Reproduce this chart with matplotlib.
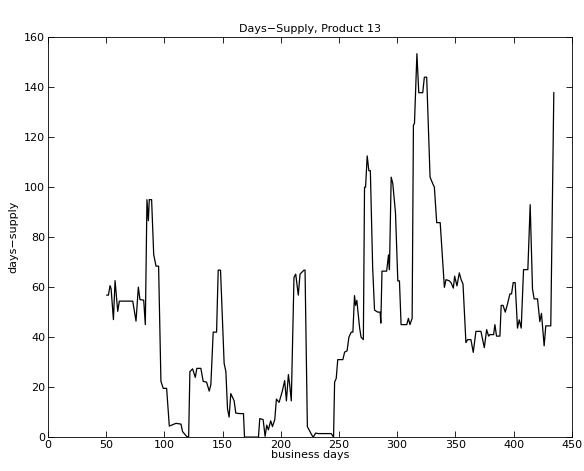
import matplotlib.pyplot as plt

# business day / days-supply breakpoints
days = [50.6, 52, 53.4, 54.3, 56.3, 57.7, 60, 61.4, 72.9, 75.7, 77.7, 79.1, 82.3, 83.7,
        85.1, 86.3, 87.1, 89.1, 90.9, 92.9, 95.1, 97.1, 99.1, 102, 104.3, 110, 114.3,
        115.7, 119.1, 120.9, 122, 124.3, 126.6, 128, 131.4, 133.4, 136.3, 138.6, 140,
        142, 144.9, 146.3, 148.3, 151.4, 152.9, 154.3, 155.7, 157.1, 160, 161.4, 164.9,
        168, 168.9, 180.9, 182, 184.9, 186.6, 188, 189.4, 191.4, 192.9, 194.9, 196.3,
        198.6, 200, 201.4, 203.4, 204.9, 206.6, 207.7, 209.1, 211.4, 212.9, 215.1,
        216.6, 220, 220.9, 222.9, 226.6, 228, 230, 232, 243.4, 245.4, 246.3, 247.7,
        249, 253.4, 254.9, 257, 258.6, 260.6, 262, 263.4, 264.3, 265.4, 267.7, 269,
        271, 272, 272.9, 274.3, 275.7, 277, 279, 280.6, 283.4, 285.4, 286, 287, 291,
        292.6, 293.4, 294.9, 296.3, 298.6, 300.6, 302, 303.4, 308.3, 309.7, 311, 312.9,
        314, 314.9, 317, 318.6, 322, 323.4, 325.4, 328.3, 330.6, 332, 334, 337, 340.6,
        342, 344.9, 346.3, 348.3, 349.4, 351.4, 353.4, 355, 356.6, 359.1, 360.6, 363.4,
        365.4, 367.7, 372, 374.9, 376.9, 378.6, 379.7, 382.9, 384, 385.4, 388.3, 389.4,
        391, 392.9, 394.9, 396.9, 398.3, 399.7, 401.4, 403.4, 404.9, 406.6, 408.6,
        412.3, 414.3, 416.3, 417.7, 420.6, 422.6, 424, 426.3, 427.7, 432, 434.6]
supply = [56.8, 56.8, 60.6, 59.4, 47, 62.6, 50.3, 54.4, 54.4, 46.4, 60, 55, 54.8, 45,
          95, 86.6, 95, 95, 73, 68.4, 68.4, 22.3, 19.5, 19.5, 4.4, 5.5, 5.2,
          2.2, 0.3, 0, 26.2, 27.3, 23.9, 27.5, 27.5, 22.3, 22, 18.4, 21,
          42, 42, 66.8, 66.8, 29.5, 26.2, 11.3, 8, 17.4, 14.5, 9.6, 9.4,
          9.4, 0, 0, 7.4, 7, 0.3, 4.8, 2.9, 6.5, 4.2, 7, 15.2,
          13.9, 16.1, 18.4, 22.6, 14.5, 25, 21, 14.5, 63.9, 65.2, 56.8,
          65.2, 66.8, 66.8, 4.2, 0.9, 0, 1.6, 1.4, 1.4, 0, 22, 23.5,
          31, 31, 34, 34.5, 40, 42, 42, 56.6, 52.7, 54.7, 44, 40,
          39, 100, 100, 112.5, 106.6, 106.6, 67.7, 50.8, 50, 50, 45.6, 66.4, 66.4,
          72.9, 67, 104, 101.4, 89.7, 62.5, 62.5, 45, 45, 47.5, 45, 47.5,
          124.8, 125.5, 153.4, 137.8, 137.8, 144, 144, 104, 101.4, 100, 85.8, 85.8, 59.9,
          63, 62.5, 61.8, 59.6, 64.4, 60.5, 65.7, 63, 61.2, 37.8, 39, 39,
          33.9, 42.3, 42.3, 35.8, 43, 40.4, 41, 41, 45, 40.4, 40.4, 52.7,
          52.7, 50, 53.4, 57.3, 57.3, 61.8, 61.8, 43.6, 46.9, 43.6, 67,
          67, 93, 59.2, 55.3, 55.3, 46.2, 49.5, 36.5, 44.5, 44.5, 137.8]

plt.rcParams['font.size'] = 8
plt.rcParams['xtick.direction'] = 'in'
plt.rcParams['ytick.direction'] = 'in'
plt.rcParams['axes.unicode_minus'] = True

fig = plt.figure(figsize=(5.84, 4.71), dpi=100)
ax = fig.add_axes([0.082, 0.072, 0.897, 0.849])
ax.plot(days, supply, color='black', linewidth=0.9)
ax.set_xlim(0, 450)
ax.set_ylim(0, 160)
ax.set_xticks(range(0, 451, 50))
ax.set_yticks(range(0, 161, 20))
ax.tick_params(top=True, right=True, length=4, width=0.6, pad=2)
for s in ax.spines.values():
    s.set_linewidth(0.6)
ax.set_title('Days\u2212Supply, Product 13', fontsize=8, pad=4)
ax.set_xlabel('business days', labelpad=0)
ax.set_ylabel('days\u2212supply', labelpad=4)
fig.savefig('out.png', dpi=100)
